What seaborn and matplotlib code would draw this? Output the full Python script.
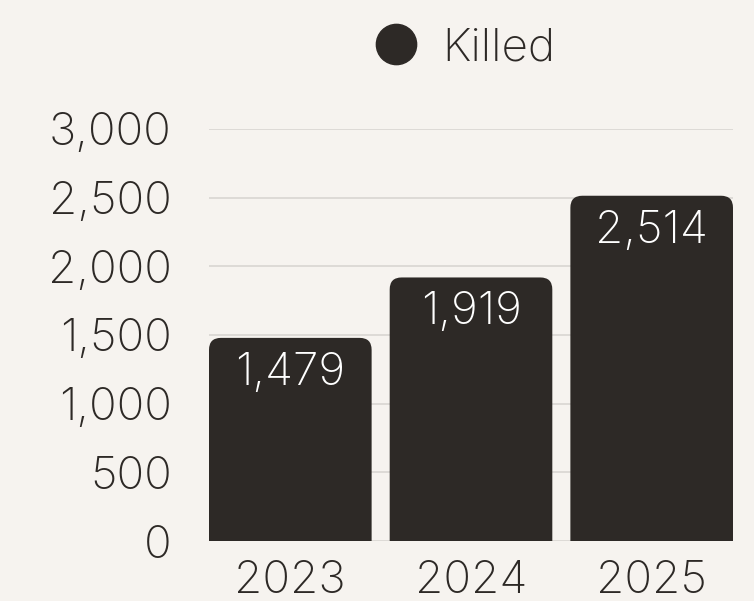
import pandas as pd
import matplotlib.pyplot as plt
import seaborn as sns
from matplotlib.patches import FancyBboxPatch
from matplotlib.lines import Line2D
from matplotlib.ticker import FuncFormatter

years = ['2023', '2024', '2025']
killed = [1479, 1919, 2514]

bg = '#f6f3ef'
dark = '#2d2926'

df = pd.DataFrame({'Year': years, 'Killed': killed})

sns.set_theme(style='white')
plt.rcParams['font.family'] = ['Inter', 'DejaVu Sans']
plt.rcParams['font.weight'] = 'light'

fig = plt.figure(figsize=(7.54, 6.01), dpi=100, facecolor=bg)
ax = fig.add_axes([209 / 754, 1 - 541 / 601, 524 / 754, 412 / 601])
ax.set_facecolor(bg)

sns.barplot(x='Year', y='Killed', data=df, color=dark, width=0.9, saturation=1, ax=ax)

# swap plain bars for ones with rounded tops
for p in list(ax.patches):
    x, w, h = p.get_x(), p.get_width(), p.get_height()
    p.set_visible(False)
    ax.add_patch(FancyBboxPatch((x, -300), w, h + 300,
                                boxstyle='round,pad=0,rounding_size=0.066',
                                mutation_aspect=1318, facecolor=dark,
                                edgecolor='none', zorder=3))

for i, v in enumerate(killed):
    ax.annotate(f'{v:,}', (i, v), xytext=(0, -10), textcoords='offset points',
                ha='center', va='top', color='white', fontsize=33, zorder=4)

ax.set_xlim(-0.45, 2.45)
ax.set_ylim(0, 3000)
ax.set_yticks(range(0, 3001, 500))
ax.yaxis.set_major_formatter(FuncFormatter(lambda v, _: f'{int(v):,}'))
ax.grid(axis='y', color='#d8d5d1', linewidth=1.2, zorder=0)
ax.set_axisbelow(True)
ax.tick_params(axis='both', length=0, labelsize=33, labelcolor=dark)
ax.tick_params(axis='y', pad=27)
ax.tick_params(axis='x', pad=14)
ax.set_xlabel('')
ax.set_ylabel('')
for s in ax.spines.values():
    s.set_visible(False)

handle = Line2D([], [], marker='o', color=dark, linestyle='none', markersize=29)
ax.legend([handle], ['Killed'], loc='lower center', bbox_to_anchor=(0.465, 1.1),
          frameon=False, fontsize=33, labelcolor=dark, handletextpad=0.0,
          borderaxespad=0)

fig.savefig('out.png', dpi=100, facecolor=bg)
